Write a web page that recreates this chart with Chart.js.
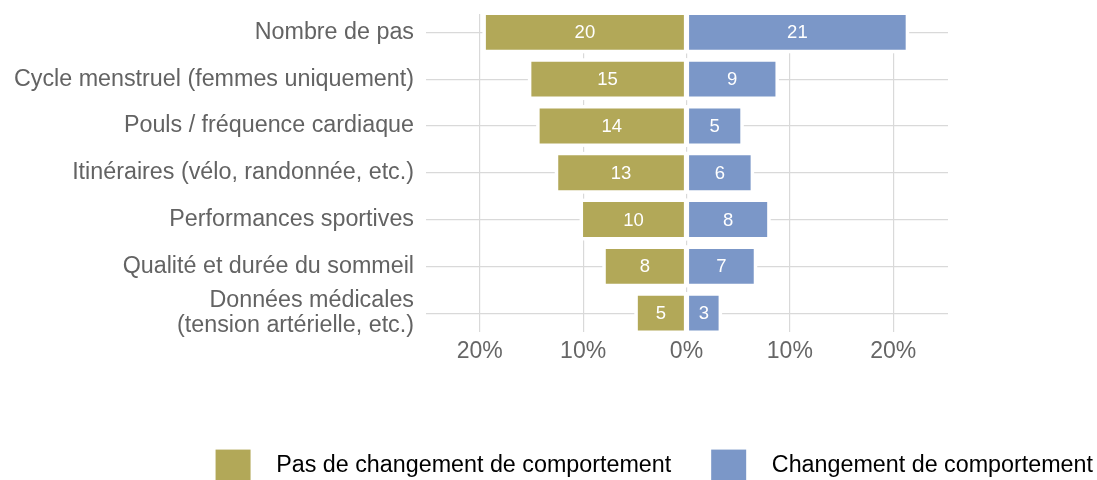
<!DOCTYPE html>
<html lang="fr">
<head>
<meta charset="utf-8">
<script src="https://cdn.jsdelivr.net/npm/chart.js@4.4.1/dist/chart.umd.min.js"></script>
<style>
  html, body { margin: 0; padding: 0; background: #fff; }
  #wrap { width: 1097px; height: 480px; position: relative; }
</style>
</head>
<body>
<div id="wrap"><canvas id="chart"></canvas></div>
<script>
'use strict';

const categories = [
  'Nombre de pas',
  'Cycle menstruel (femmes uniquement)',
  'Pouls / fréquence cardiaque',
  'Itinéraires (vélo, randonnée, etc.)',
  'Performances sportives',
  'Qualité et durée du sommeil',
  ['Données médicales', '(tension artérielle, etc.)']
];
const seriesNames = ['Pas de changement de comportement', 'Changement de comportement'];
// % of respondents, left side = no change, right side = change
const noChange = [19.6, 15.2, 14.4, 12.6, 10.2, 8.0, 4.9];
const change = [21.4, 8.8, 5.4, 6.4, 8.0, 6.7, 3.3];
const xTicks = [-20, -10, 0, 10, 20];
const colors = ['#b2a858', '#7b97c8'];

Chart.defaults.font.family = "'Liberation Sans', Arial, Helvetica, sans-serif";

// legend swatch with some room around it (gap before / after the square)
function legendSwatch(color) {
  let c = document.createElement('canvas');
  c.width = 85;
  c.height = 38;
  let g = c.getContext('2d');
  g.fillStyle = color;
  g.fillRect(36, 3, 35, 35);
  return c;
}

// white halo under each bar so grid lines stop short of it
const barHalo = {
  id: 'barHalo',
  beforeDatasetsDraw(chart) {
    let ctx = chart.ctx, pad = 1.5;
    ctx.save();
    ctx.fillStyle = '#fff';
    chart.data.datasets.forEach((ds, i) => {
      chart.getDatasetMeta(i).data.forEach(el => {
        let p = el.getProps(['x', 'y', 'base', 'height'], true);
        let left = Math.min(p.x, p.base) - pad,
          right = Math.max(p.x, p.base) + pad;
        ctx.fillRect(left, p.y - p.height / 2 - pad, right - left, p.height + 2 * pad);
      });
    });
    ctx.restore();
  }
};

const barLabels = {
  id: 'barLabels',
  afterDatasetsDraw(chart) {
    let ctx = chart.ctx;
    ctx.save();
    ctx.fillStyle = '#fff';
    ctx.font = "18.5px 'Liberation Sans', Arial, Helvetica, sans-serif";
    ctx.textAlign = 'center';
    ctx.textBaseline = 'middle';
    chart.data.datasets.forEach((ds, i) => {
      chart.getDatasetMeta(i).data.forEach((el, j) => {
        let p = el.getProps(['x', 'y', 'base'], true);
        ctx.fillText(Math.round(Math.abs(ds.data[j])), (p.x + p.base) / 2, p.y + 1);
      });
    });
    ctx.restore();
  }
};

new Chart(document.getElementById('chart'), {
  type: 'bar',
  data: {
    labels: categories,
    datasets: [{
      label: seriesNames[0],
      data: noChange.map(v => -v),
      backgroundColor: colors[0]
    }, {
      label: seriesNames[1],
      data: change,
      backgroundColor: colors[1]
    }]
  },
  options: {
    indexAxis: 'y',
    responsive: true,
    maintainAspectRatio: false,
    animation: false,
    datasets: {
      bar: {
        borderColor: '#fff',
        borderWidth: 2,
        borderSkipped: false,
        barPercentage: 0.83,
        categoryPercentage: 1
      }
    },
    layout: {
      padding: {top: 14, right: 0, bottom: -6.8, left: 0}
    },
    scales: {
      x: {
        stacked: true,
        min: -25.2,
        max: 25.3,
        afterBuildTicks: s => { s.ticks = xTicks.map(v => ({value: v})); },
        afterFit: s => { s.height = 118; },
        grid: {color: '#d9d9d9', lineWidth: 1.2, drawTicks: false},
        border: {display: false},
        ticks: {
          padding: 6,
          color: '#666',
          font: {size: 23},
          callback: v => Math.abs(v) + '%'
        }
      },
      y: {
        stacked: true,
        // rows sit a bit closer to the panel edges than half a band
        afterBuildTicks: s => {
          s._startValue = -0.393;
          s._valueRange = categories.length - 1 + 2 * 0.393;
        },
        afterFit: s => {
          s.width = 426;
          s.paddingTop = 0;
          s.paddingBottom = 0;
        },
        grid: {color: '#d9d9d9', lineWidth: 1.2, drawTicks: false, offset: false},
        border: {display: false},
        ticks: {
          autoSkip: false,
          padding: 12,
          color: '#636363',
          font: {size: 23.3, lineHeight: 1.04}
        }
      },
      yRight: {
        type: 'category',
        position: 'right',
        afterFit: s => { s.width = 149; },
        grid: {display: false},
        border: {display: false},
        ticks: {display: false}
      }
    },
    plugins: {
      tooltip: {enabled: false},
      legend: {
        position: 'bottom',
        align: 'end',
        labels: {
          usePointStyle: true,
          pointStyleWidth: 85,
          padding: 4,
          color: '#111',
          font: {size: 23.3},
          generateLabels: chart => chart.data.datasets.map((ds, i) => ({
            text: ds.label,
            fillStyle: colors[i],
            strokeStyle: 'transparent',
            lineWidth: 0,
            pointStyle: legendSwatch(colors[i]),
            datasetIndex: i,
            hidden: false
          }))
        }
      }
    }
  },
  plugins: [barHalo, barLabels]
});
</script>
</body>
</html>
